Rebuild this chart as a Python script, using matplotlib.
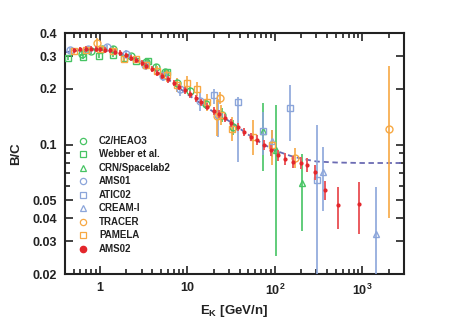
import matplotlib
matplotlib.use("Agg")
import matplotlib.pyplot as plt
from matplotlib.lines import Line2D
from matplotlib import ticker
import numpy as np


plt.rcParams["font.family"] = ["Liberation Sans", "DejaVu Sans"]
plt.rcParams["font.weight"] = "bold"
plt.rcParams["mathtext.fontset"] = "custom"
plt.rcParams["mathtext.rm"] = "Liberation Sans:bold"
plt.rcParams["mathtext.bf"] = "Liberation Sans:bold"

green = "#46c463"
blue = "#8ba5da"
orange = "#f7a843"
red = "#e3262b"
red_bar = "#ea5a5e"
model_colour = "#6b6bb3"
ink = "#222222"

# Model curve
model_e = [0.4, 0.6, 0.8, 1.0, 1.5, 2.0, 3.0, 5.0, 7.0, 10.0, 15.0, 20.0, 30.0,
           50.0, 70.0, 100.0, 150.0, 200.0, 300.0, 500.0, 1000.0, 3000.0]
model_bc = [0.315, 0.323, 0.326, 0.325, 0.316, 0.303, 0.278, 0.240, 0.213, 0.187,
            0.164, 0.150, 0.134, 0.113, 0.102, 0.093, 0.087, 0.084, 0.081, 0.080,
            0.0795, 0.0795]

# C2/HEAO3
heao_e = [0.62, 0.8, 1.06, 1.4, 2.3, 3.4, 4.4, 5.6, 7.6, 10.6, 16.2, 25.0, 33.0]
heao_bc = [0.31, 0.32, 0.33, 0.33, 0.30, 0.28, 0.262, 0.245, 0.216, 0.195, 0.165, 0.145, 0.124]
heao_lo = [0.30, 0.31, 0.32, 0.32, 0.29, 0.27, 0.252, 0.235, 0.206, 0.185, 0.155, 0.133, 0.113]
heao_hi = [0.32, 0.33, 0.34, 0.34, 0.31, 0.29, 0.272, 0.255, 0.226, 0.205, 0.175, 0.157, 0.135]

# Webber et al.
webber_e = [0.43, 0.64, 0.97, 1.4, 1.9, 2.6, 3.6, 5.8]
webber_bc = [0.293, 0.297, 0.300, 0.306, 0.292, 0.283, 0.283, 0.247]
webber_lo = [0.285, 0.289, 0.292, 0.298, 0.284, 0.275, 0.275, 0.239]
webber_hi = [0.301, 0.305, 0.308, 0.314, 0.300, 0.291, 0.291, 0.255]

# CRN/Spacelab2
crn_e = [73.0, 102.0, 204.0]
crn_bc = [0.118, 0.094, 0.062]
crn_lo = [0.072, 0.025, 0.034]
crn_hi = [0.168, 0.164, 0.089]

# AMS01
ams01_e = [0.46, 0.73, 1.2, 2.0, 3.3, 5.3, 8.2, 13.9, 22.3]
ams01_bc = [0.323, 0.330, 0.335, 0.310, 0.270, 0.235, 0.200, 0.172, 0.145]
ams01_lo = [0.313, 0.320, 0.325, 0.298, 0.256, 0.220, 0.183, 0.152, 0.110]
ams01_hi = [0.333, 0.340, 0.345, 0.322, 0.284, 0.250, 0.217, 0.192, 0.176]

# ATIC02
atic_e = [20.0, 38.0, 73.5, 149.0, 303.0]
atic_bc = [0.184, 0.170, 0.118, 0.157, 0.064]
atic_lo = [0.165, 0.081, 0.088, 0.104, 0.010]
atic_hi = [0.200, 0.180, 0.150, 0.210, 0.128]

# CREAM-I
cream_e = [92.0, 357.0, 1437.0]
cream_bc = [0.104, 0.0713, 0.0327]
cream_lo = [0.086, 0.044, 0.010]
cream_hi = [0.120, 0.097, 0.059]

# TRACER
tracer_e = [0.92, 22.0, 23.5, 169.0, 2050.0]
tracer_bc = [0.355, 0.142, 0.178, 0.085, 0.122]
tracer_lo = [0.335, 0.111, 0.165, 0.075, 0.040]
tracer_hi = [0.375, 0.175, 0.191, 0.096, 0.267]

# PAMELA
pamela_e = [0.5, 0.7, 1.0, 1.4, 1.9, 2.6, 3.4, 4.5, 5.9, 7.6, 9.8, 12.8, 17.0, 24.0,
            32.6, 56.0, 94.0]
pamela_bc = [0.318, 0.325, 0.330, 0.320, 0.290, 0.290, 0.268, 0.250, 0.236, 0.210,
             0.216, 0.200, 0.170, 0.145, 0.122, 0.110, 0.100]
pamela_lo = [0.306, 0.313, 0.318, 0.308, 0.278, 0.278, 0.254, 0.234, 0.218, 0.192,
             0.198, 0.182, 0.152, 0.127, 0.104, 0.088, 0.078]
pamela_hi = [0.330, 0.337, 0.342, 0.332, 0.302, 0.302, 0.282, 0.266, 0.254, 0.228,
             0.234, 0.218, 0.188, 0.163, 0.140, 0.135, 0.120]

# AMS02
ams02_e = [0.5, 0.6, 0.7, 0.8, 0.9, 1.0, 1.15, 1.3, 1.5, 1.7, 2.0, 2.3, 2.6, 3.0, 3.4,
           3.9, 4.5, 5.2, 6.0, 7.0, 8.0, 9.3, 10.8, 12.5, 14.5, 17.0, 20.0, 23.0, 27.0,
           32.0, 38.0, 45.0, 53.0, 63.0, 75.0, 90.0, 108.0, 130.0, 160.0, 200.0, 236.0,
           292.0, 380.0, 529.0, 912.0]
ams02_bc = [0.322, 0.326, 0.328, 0.329, 0.328, 0.327, 0.325, 0.322, 0.317, 0.311,
            0.303, 0.294, 0.286, 0.276, 0.266, 0.256, 0.244, 0.235, 0.225, 0.215,
            0.205, 0.196, 0.187, 0.178, 0.169, 0.160, 0.152, 0.146, 0.139, 0.131,
            0.124, 0.117, 0.110, 0.106, 0.100, 0.093, 0.088, 0.084, 0.081, 0.080,
            0.078, 0.071, 0.057, 0.047, 0.048]
ams02_err = [0.011, 0.011, 0.011, 0.011, 0.011, 0.011, 0.011, 0.011, 0.011, 0.011,
             0.010, 0.010, 0.010, 0.010, 0.010, 0.009, 0.009, 0.009, 0.009, 0.008,
             0.008, 0.008, 0.008, 0.008, 0.007, 0.007, 0.007, 0.007, 0.007, 0.006,
             0.006, 0.006, 0.006, 0.006, 0.006, 0.006, 0.006, 0.006, 0.006, 0.006,
             0.007, 0.0065, 0.0067, 0.012, 0.015]

x_ticks = [1, 10, 100, 1000]
x_tick_labels = ["1", "10", "$10^2$", "$10^3$"]
y_ticks = [0.02, 0.03, 0.04, 0.05, 0.1, 0.2, 0.3, 0.4]
y_tick_labels = ["0.02", "0.03", "0.04", "0.05", "0.1", "0.2", "0.3", "0.4"]


def asym(bc, lo, hi):
    bc = np.array(bc)
    return [bc - np.array(lo), np.array(hi) - bc]


figure = plt.figure(figsize=(4.58, 3.27), dpi=100)
axes = figure.add_axes([0.142, 0.162, 0.74, 0.737])

axes.plot(model_e, model_bc, linestyle=(0, (3, 2)), color=model_colour, linewidth=1.3,
          zorder=2)

open_sets = [
    (heao_e, heao_bc, heao_lo, heao_hi, green, "o", "C2/HEAO3"),
    (webber_e, webber_bc, webber_lo, webber_hi, green, "s", "Webber et al."),
    (crn_e, crn_bc, crn_lo, crn_hi, green, "^", "CRN/Spacelab2"),
    (ams01_e, ams01_bc, ams01_lo, ams01_hi, blue, "o", "AMS01"),
    (atic_e, atic_bc, atic_lo, atic_hi, blue, "s", "ATIC02"),
    (cream_e, cream_bc, cream_lo, cream_hi, blue, "^", "CREAM-I"),
    (tracer_e, tracer_bc, tracer_lo, tracer_hi, orange, "o", "TRACER"),
    (pamela_e, pamela_bc, pamela_lo, pamela_hi, orange, "s", "PAMELA"),
]

handles = []
for e, bc, lo, hi, colour, marker, label in open_sets:
    axes.errorbar(e, bc, yerr=asym(bc, lo, hi), fmt=marker, markersize=5,
                  markerfacecolor="none", markeredgecolor=colour, markeredgewidth=1.0,
                  ecolor=colour, elinewidth=1.2, capsize=0, zorder=3)
    handles.append(Line2D([], [], linestyle="none", marker=marker, markersize=4.5,
                          markerfacecolor="none", markeredgecolor=colour,
                          markeredgewidth=0.9, label=label))

axes.errorbar(ams02_e, ams02_bc, yerr=ams02_err, fmt="o", markersize=2,
              color=red, ecolor=red_bar, elinewidth=1.4, capsize=0, zorder=4)
handles.append(Line2D([], [], linestyle="none", marker="o", markersize=4.5,
                      color=red, label="AMS02"))

axes.set_xscale("log")
axes.set_yscale("log")
axes.set_xlim(0.4, 3000)
axes.set_ylim(0.02, 0.4)

axes.xaxis.set_major_locator(ticker.FixedLocator(x_ticks))
axes.xaxis.set_major_formatter(ticker.FixedFormatter(x_tick_labels))
axes.xaxis.set_minor_locator(ticker.LogLocator(base=10, subs=np.arange(2, 10)))
axes.xaxis.set_minor_formatter(ticker.NullFormatter())
axes.yaxis.set_major_locator(ticker.FixedLocator(y_ticks))
axes.yaxis.set_major_formatter(ticker.FixedFormatter(y_tick_labels))
axes.yaxis.set_minor_locator(ticker.FixedLocator([0.06, 0.07, 0.08, 0.09]))
axes.yaxis.set_minor_formatter(ticker.NullFormatter())

axes.tick_params(which="both", direction="in", top=True, right=True, colors=ink,
                 labelsize=9, width=1.2)
axes.tick_params(which="major", length=6, pad=6)
axes.tick_params(which="minor", length=3.5)
for label in axes.get_xticklabels() + axes.get_yticklabels():
    label.set_fontweight("bold")
for spine in axes.spines.values():
    spine.set_linewidth(1.5)
    spine.set_color(ink)

axes.set_xlabel("E$_\\mathrm{K}$ [GeV/n]", fontsize=9.5, fontweight="bold", color=ink,
                labelpad=4)
axes.set_ylabel("B/C", fontsize=9.5, fontweight="bold", color=ink, labelpad=7)

legend = axes.legend(handles=handles, loc="lower left", bbox_to_anchor=(0.02, 0.055),
                     frameon=False, fontsize=7, handlelength=0.8, handletextpad=1.3,
                     labelspacing=0.36, borderpad=0.2)
for text in legend.get_texts():
    text.set_fontweight("bold")
    text.set_color(ink)

plt.savefig("out.png", dpi=100)
plt.close()
